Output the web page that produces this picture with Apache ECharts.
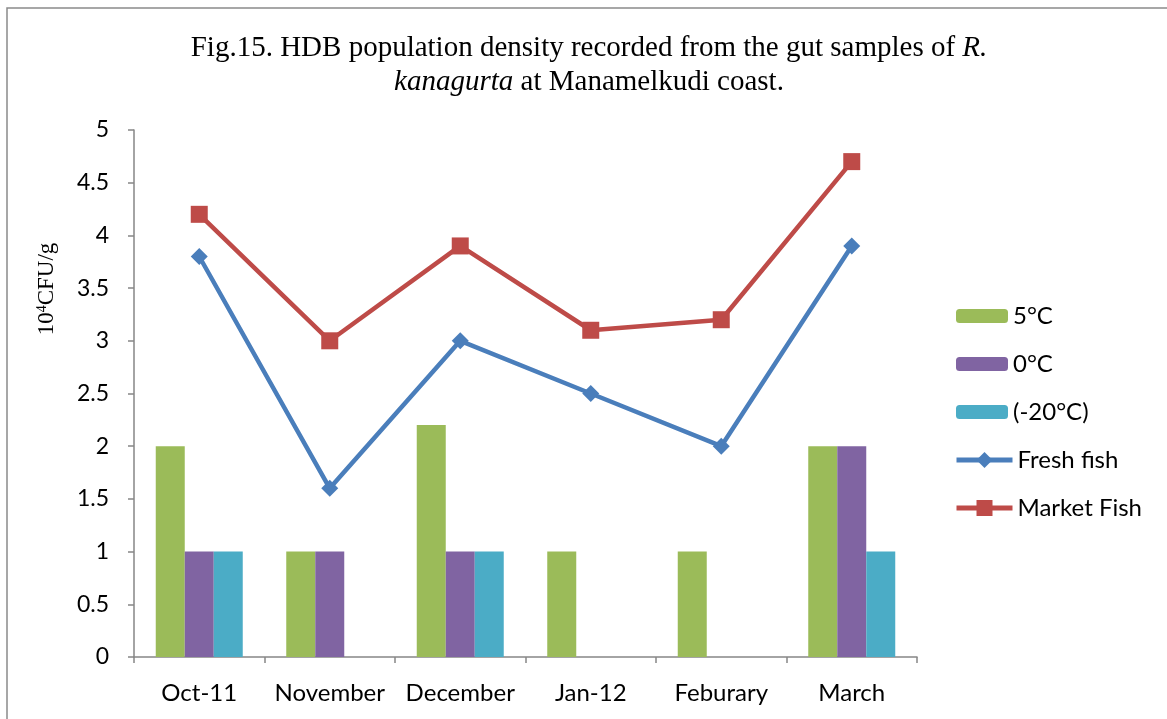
<!DOCTYPE html>
<html><head><meta charset="utf-8">
<script src="https://cdn.jsdelivr.net/npm/echarts@6/dist/echarts.min.js"></script>
<style>html,body{margin:0;padding:0;background:#fff}#c{width:1167px;height:719px}</style>
</head><body><div id="c"></div>
<script>
const categories = ['Oct-11','November','December','Jan-12','Feburary','March'];
const s5C = [2, 1, 2.2, 1, 1, 2];
const s0C = [1, 1, 1, 0, 0, 2];
const sM20C = [1, 0, 1, 0, 0, 1];
const freshFish = [3.8, 1.6, 3.0, 2.5, 2.0, 3.9];
const marketFish = [4.2, 3.0, 3.9, 3.1, 3.2, 4.7];

const chart = echarts.init(document.getElementById('c'));
const sans = 'Lato, "Open Sans", sans-serif';
const serif = '"Liberation Serif", "DejaVu Serif", serif';
const legendText = { fontFamily: sans, fontSize: 24, color: '#000' };
chart.setOption({
  animation: false,
  backgroundColor: '#fff',
  title: {
    text: 'Fig.15. HDB population density recorded from the gut samples of {i|R.}\n{i|kanagurta} at Manamelkudi coast.',
    left: 584, top: 26, textAlign: 'center',
    textStyle: {
      fontFamily: serif, fontSize: 29, fontWeight: 'normal', color: '#000', lineHeight: 34, align: 'center',
      rich: { i: { fontFamily: serif, fontSize: 29, fontStyle: 'italic', color: '#000', lineHeight: 34 } }
    }
  },
  graphic: [
    { type: 'rect', shape: { x: 7, y: 8, width: 1170, height: 730 }, style: { fill: 'none', stroke: '#8a8a8a', lineWidth: 1.5 }, z: 100 },
    { type: 'text', x: 47, y: 289, rotation: Math.PI / 2,
      style: { text: '10{s|4}CFU/g', rich: { s: { fontSize: 14, verticalAlign: 'top', padding: [0,0,10,0], fontFamily: serif, fill: '#000' } },
        fontFamily: serif, fontSize: 23, fill: '#000', align: 'center', verticalAlign: 'middle' } }
  ],
  legend: [
    { orient: 'vertical', left: 951, top: 299, itemWidth: 52, itemHeight: 14, itemGap: 24, padding: 5,
      textStyle: legendText, data: ['5°C','0°C','(-20°C)'] },
    { orient: 'vertical', left: 949, top: 443, itemWidth: 56, itemHeight: 20, itemGap: 24, padding: 5,
      textStyle: legendText,
      data: [{ name: 'Fresh fish', lineStyle: { width: 5 } }, { name: 'Market Fish', lineStyle: { width: 5 } }] }
  ],
  grid: { left: 134, right: 250, top: 130, bottom: 62, containLabel: false },
  xAxis: {
    type: 'category', data: categories,
    axisLine: { lineStyle: { color: '#868686', width: 1.5 } },
    axisTick: { show: true, length: 6, lineStyle: { color: '#868686', width: 1.5 } },
    axisLabel: { fontFamily: sans, fontSize: 24, color: '#000', margin: 24, interval: 0 }
  },
  yAxis: {
    type: 'value', min: 0, max: 5, interval: 0.5,
    axisLine: { show: true, lineStyle: { color: '#868686', width: 1.5 } },
    axisTick: { show: true, length: 6, lineStyle: { color: '#868686', width: 1.5 } },
    splitLine: { show: false },
    axisLabel: { fontFamily: sans, fontSize: 23, color: '#000', margin: 25 }
  },
  series: [
    { name: '5°C', type: 'bar', data: s5C, barWidth: 29, barGap: '0%', itemStyle: { color: '#9BBB59' } },
    { name: '0°C', type: 'bar', data: s0C, barWidth: 29, barGap: '0%', itemStyle: { color: '#8064A2' } },
    { name: '(-20°C)', type: 'bar', data: sM20C, barWidth: 29, barGap: '0%', itemStyle: { color: '#4BACC6' } },
    { name: 'Fresh fish', type: 'line', data: freshFish, symbol: 'diamond', symbolSize: 17,
      lineStyle: { color: '#4A7EBB', width: 4.5 }, itemStyle: { color: '#4A7EBB' }, z: 5 },
    { name: 'Market Fish', type: 'line', data: marketFish, symbol: 'rect', symbolSize: 17,
      lineStyle: { color: '#BE4B48', width: 4.5 }, itemStyle: { color: '#BE4B48' }, z: 5 }
  ]
});
</script></body></html>
